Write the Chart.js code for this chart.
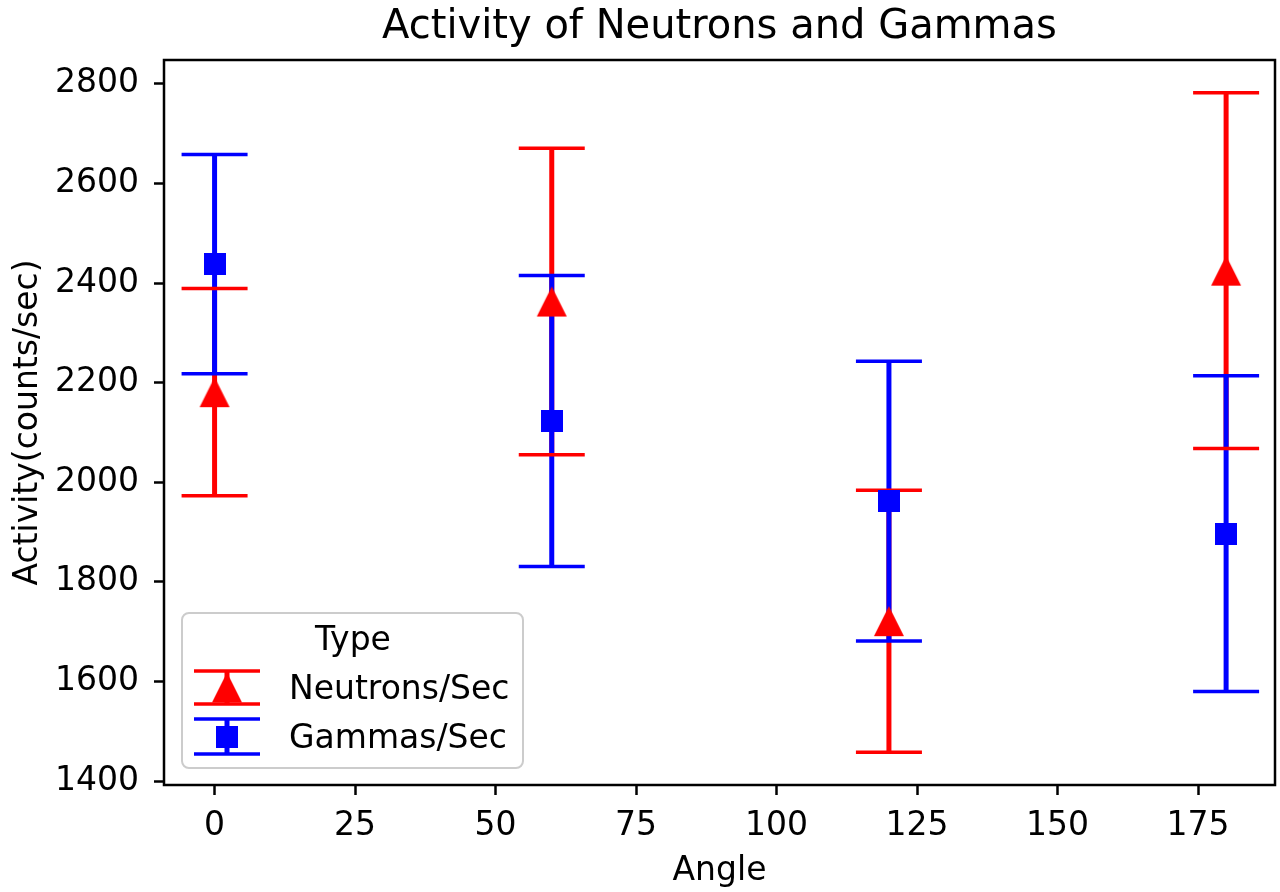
<!DOCTYPE html>
<html>
<head>
<meta charset="utf-8">
<title>Activity of Neutrons and Gammas</title>
<script src="https://cdn.jsdelivr.net/npm/chart.js@4.4.1/dist/chart.umd.min.js"></script>
<style>
  html, body { margin: 0; padding: 0; background: #fff; }
  #wrap { width: 1280px; height: 892px; }
</style>
</head>
<body>
<div id="wrap"><canvas id="activityChart" width="1280" height="892"></canvas></div>
<script>
// data
const angles = [0, 60, 120, 180];
const neutronMean = [2181, 2363, 1721, 2425];
const neutronErr = [208, 308, 263, 357];
const gammaMean = [2438, 2123, 1962, 1897];
const gammaErr = [220, 292, 281, 317];

const xTickValues = [0, 25, 50, 75, 100, 125, 150, 175];
const yTickValues = [1400, 1600, 1800, 2000, 2200, 2400, 2600, 2800];

const RED = '#ff0000';
const BLUE = '#0000ff';
const FONT = '"DejaVu Sans", "Liberation Sans", sans-serif';

// matplotlib style markers ('^' is centred on its mid-height, not its centroid)
function makeTriangle(color) {
    let c = document.createElement('canvas');
    c.width = 32; c.height = 32;
    let g = c.getContext('2d');
    g.fillStyle = color;
    g.beginPath();
    g.moveTo(16, 1);
    g.lineTo(31, 31);
    g.lineTo(1, 31);
    g.closePath();
    g.fill();
    return c;
}

function makeSquare(color) {
    let c = document.createElement('canvas');
    c.width = 22; c.height = 22;
    let g = c.getContext('2d');
    g.fillStyle = color;
    g.fillRect(0, 0, 22, 22);
    return c;
}

const triangleMarker = makeTriangle(RED);
const squareMarker = makeSquare(BLUE);

const series = [
    { label: 'Neutrons/Sec', mean: neutronMean, err: neutronErr, color: RED, marker: triangleMarker },
    { label: 'Gammas/Sec', mean: gammaMean, err: gammaErr, color: BLUE, marker: squareMarker }
];

const CAP = 33;

// error bars: all stems first, then all caps (same stacking as matplotlib)
const errorBars = {
    id: 'errorBars',
    beforeDatasetsDraw(chart) {
        let ctx = chart.ctx;
        let xs = chart.scales.x;
        let ys = chart.scales.y;
        ctx.save();
        ctx.lineCap = 'butt';
        series.forEach(s => {
            ctx.strokeStyle = s.color;
            ctx.lineWidth = 5;
            angles.forEach((a, i) => {
                let px = xs.getPixelForValue(a);
                ctx.beginPath();
                ctx.moveTo(px, ys.getPixelForValue(s.mean[i] - s.err[i]));
                ctx.lineTo(px, ys.getPixelForValue(s.mean[i] + s.err[i]));
                ctx.stroke();
            });
        });
        series.forEach(s => {
            ctx.strokeStyle = s.color;
            ctx.lineWidth = 3.5;
            angles.forEach((a, i) => {
                let px = xs.getPixelForValue(a);
                [s.mean[i] - s.err[i], s.mean[i] + s.err[i]].forEach(v => {
                    let py = ys.getPixelForValue(v);
                    ctx.beginPath();
                    ctx.moveTo(px - CAP, py);
                    ctx.lineTo(px + CAP, py);
                    ctx.stroke();
                });
            });
        });
        ctx.restore();
    }
};

// frame, titles and the legend
const decor = {
    id: 'decor',
    afterDraw(chart) {
        let ctx = chart.ctx;
        let area = chart.chartArea;
        ctx.save();

        ctx.strokeStyle = '#000';
        ctx.lineWidth = 2.5;
        ctx.strokeRect(area.left, area.top, area.right - area.left, area.bottom - area.top);

        ctx.fillStyle = '#000';
        ctx.textAlign = 'center';
        ctx.textBaseline = 'alphabetic';
        ctx.font = '40px ' + FONT;
        ctx.fillText('Activity of Neutrons and Gammas', (area.left + area.right) / 2, 38);

        ctx.font = '33px ' + FONT;
        ctx.fillText('Angle', (area.left + area.right) / 2, 880);

        ctx.save();
        ctx.translate(37, (area.top + area.bottom) / 2);
        ctx.rotate(-Math.PI / 2);
        ctx.fillText('Activity(counts/sec)', 0, 0);
        ctx.restore();

        // legend box
        ctx.fillStyle = 'rgba(255,255,255,0.8)';
        ctx.strokeStyle = '#cccccc';
        ctx.lineWidth = 2;
        ctx.beginPath();
        ctx.roundRect(182, 613, 341, 155, 7);
        ctx.fill();
        ctx.stroke();

        ctx.fillStyle = '#000';
        ctx.textAlign = 'center';
        ctx.fillText('Type', 353, 650);

        let rows = [
            { s: series[0], top: 671, bottom: 704, base: 699 },
            { s: series[1], top: 719, bottom: 754, base: 748 }
        ];
        rows.forEach(r => {
            let cx = 227;
            let cy = (r.top + r.bottom) / 2;
            ctx.strokeStyle = r.s.color;
            ctx.lineWidth = 5;
            ctx.beginPath();
            ctx.moveTo(cx, r.top);
            ctx.lineTo(cx, r.bottom);
            ctx.stroke();
            ctx.lineWidth = 3.5;
            [r.top, r.bottom].forEach(py => {
                ctx.beginPath();
                ctx.moveTo(cx - CAP, py);
                ctx.lineTo(cx + CAP, py);
                ctx.stroke();
            });
            let m = r.s.marker;
            ctx.drawImage(m, cx - m.width / 2, cy - m.height / 2);
            ctx.fillStyle = '#000';
            ctx.textAlign = 'left';
            ctx.fillText(r.s.label, 289, r.base);
        });

        ctx.restore();
    }
};

const ctx = document.getElementById('activityChart').getContext('2d');

new Chart(ctx, {
    type: 'scatter',
    data: {
        datasets: series.map((s, k) => ({
            label: s.label,
            data: angles.map((a, i) => ({ x: a, y: s.mean[i] })),
            pointStyle: s.marker,
            backgroundColor: s.color,
            borderColor: s.color,
            order: 1 - k
        }))
    },
    options: {
        responsive: false,
        animation: false,
        devicePixelRatio: 1,
        layout: { padding: { top: 60, right: 2, bottom: 0, left: 0 } },
        plugins: {
            legend: { display: false },
            title: { display: false },
            tooltip: { enabled: false }
        },
        scales: {
            x: {
                type: 'linear',
                min: -9,
                max: 188.7,
                afterBuildTicks: scale => { scale.ticks = xTickValues.map(v => ({ value: v })); },
                afterFit: scale => { scale.height = 107; },
                border: { display: false },
                grid: {
                    drawOnChartArea: false,
                    drawTicks: true,
                    tickLength: 10,
                    tickWidth: 2.5,
                    tickColor: '#000'
                },
                ticks: {
                    color: '#000',
                    padding: 12,
                    maxRotation: 0,
                    callback: value => String(value),
                    font: { family: FONT, size: 33 }
                }
            },
            y: {
                type: 'linear',
                min: 1392,
                max: 2848,
                afterBuildTicks: scale => { scale.ticks = yTickValues.map(v => ({ value: v })); },
                afterFit: scale => { scale.width = 164; },
                border: { display: false },
                grid: {
                    drawOnChartArea: false,
                    drawTicks: true,
                    tickLength: 10,
                    tickWidth: 2.5,
                    tickColor: '#000'
                },
                ticks: {
                    color: '#000',
                    padding: 15,
                    callback: value => String(value),
                    font: { family: FONT, size: 33 }
                }
            }
        }
    },
    plugins: [errorBars, decor]
});
</script>
</body>
</html>
